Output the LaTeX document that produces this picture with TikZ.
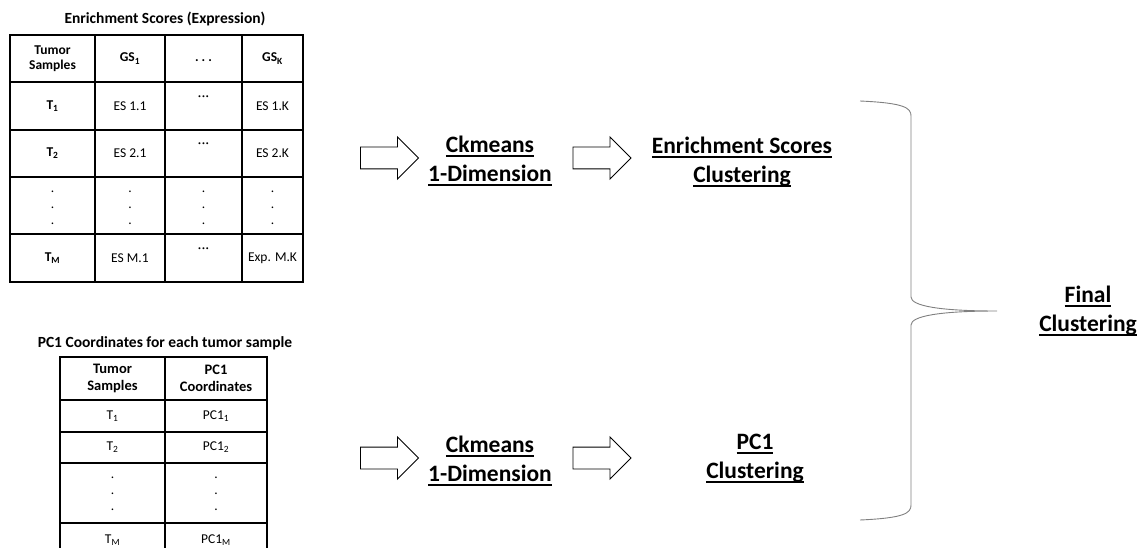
\documentclass[tikz,border=0pt]{standalone}
\usepackage{fontspec}
\setmainfont{Carlito}
\usetikzlibrary{shapes.arrows}
\newcommand\undl[1]{\setbox0\hbox{#1}\leavevmode\rlap{\rule[-3.8pt]{\wd0}{1.6pt}}\box0}
\begin{document}
\begin{tikzpicture}[x=1pt,y=-1pt,
  grid/.style={line width=1.8pt,line cap=rect},
  hdr/.style={font=\bfseries\fontsize{13.5}{15}\selectfont,align=center},
  cell/.style={font=\fontsize{13.5}{15}\selectfont},
  ttl/.style={font=\bfseries\fontsize{15.5}{18}\selectfont},
  big/.style={font=\bfseries\fontsize{23.5}{29}\selectfont,align=center},
  blockarrow/.style={single arrow,draw,line width=0.9pt,inner xsep=0pt,inner ysep=10.5pt,
    minimum width=0pt,minimum height=58pt,single arrow head extend=10pt}]
\useasboundingbox (0,0) rectangle (1142,548);
% enrichment score table
\node[ttl] (estitle) at (165,19) {Enrichment Scores (Expression)};
\foreach \x in {10,95,165,242,303} \draw[grid] (\x,35) -- (\x,282);
\foreach \y in {35,82,130,177,234,282} \draw[grid] (10,\y) -- (303,\y);
\node[hdr] (eshead) at (52.5,58.5) {Tumor\\Samples};
\node[hdr] (gs1) at (130,58.5) {GS\textsubscript{1}};
\node[hdr] (gsdots) at (203.5,61) {.\hspace{3pt}.\hspace{3pt}.};
\node[hdr] (gsk) at (272.5,58.5) {GS\textsubscript{K}};
\node[hdr] (t1) at (52.5,106) {T\textsubscript{1}};
\node[cell] (es11) at (130,106) {ES 1.1};
\node[cell] (es1d) at (203.5,98) {·\hspace{0.5pt}·\hspace{0.5pt}·};
\node[cell] (es1k) at (272.5,106) {ES 1.K};
\node[hdr] (t2) at (52.5,153.5) {T\textsubscript{2}};
\node[cell] (es21) at (130,153.5) {ES 2.1};
\node[cell] (es2d) at (203.5,145.5) {·\hspace{0.5pt}·\hspace{0.5pt}·};
\node[cell] (es2k) at (272.5,153.5) {ES 2.K};
\foreach \x [count=\i] in {52.5,130,203.5,272.5}
  \foreach \y [count=\j] in {192,208,224}
    \node[cell] (esdot-\i-\j) at (\x,\y) {.};
\node[hdr] (tm) at (52.5,258) {T\textsubscript{M}};
\node[cell] (esm1) at (130,258) {ES M.1};
\node[cell] (esmd) at (203.5,250) {·\hspace{0.5pt}·\hspace{0.5pt}·};
\node[cell] (esmk) at (272.5,258) {Exp. M.K};
% pc1 table
\node[ttl] (pctitle) at (165,343) {PC1 Coordinates for each tumor sample};
\foreach \x in {60,165,267} \draw[grid] (\x,357) -- (\x,580);
\foreach \y in {357,400,432,463,523} \draw[grid] (60,\y) -- (267,\y);
\node[hdr,font=\bfseries\fontsize{14.5}{17}\selectfont] (pchead1) at (112.5,378.5) {Tumor\\Samples};
\node[hdr,font=\bfseries\fontsize{14.5}{17}\selectfont] (pchead2) at (216,378.5) {PC1\\Coordinates};
\node[cell] (pt1) at (112.5,416) {T\textsubscript{1}};
\node[cell] (pc11) at (216,416) {PC1\textsubscript{1}};
\node[cell] (pt2) at (112.5,447.5) {T\textsubscript{2}};
\node[cell] (pc12) at (216,447.5) {PC1\textsubscript{2}};
\foreach \x [count=\i] in {112.5,216}
  \foreach \y [count=\j] in {478,494,510}
    \node[cell] (pcdot-\i-\j) at (\x,\y) {.};
\node[cell] (ptm) at (112.5,540) {T\textsubscript{M}};
\node[cell] (pc1m) at (216,540) {PC1\textsubscript{M}};
% flow
\node[blockarrow] (arr1) at (384,158) {};
\node[big] (ck1) at (490,161) {\undl{Ckmeans}\\\undl{1-Dimension}};
\node[blockarrow] (arr2) at (596.5,158) {};
\node[big] (esclus) at (742,162) {\undl{Enrichment Scores}\\\undl{Clustering}};
\node[blockarrow] (arr3) at (384,458) {};
\node[big] (ck2) at (490,461) {\undl{Ckmeans}\\\undl{1-Dimension}};
\node[blockarrow] (arr4) at (596.5,458) {};
\node[big] (pcclus) at (755,458.5) {\undl{PC1}\\\undl{Clustering}};
\node[big] (final) at (1088,311) {\undl{Final}\\\undl{Clustering}};
% brace
\draw[gray,line width=0.9pt] (860,101) .. controls (905,103) and (911,108) .. (911,116)
  -- (911,297) .. controls (911,306) and (940,311) .. (997,311)
  .. controls (940,311) and (911,316) .. (911,325) -- (911,505)
  .. controls (911,513) and (905,518) .. (860,520);
\end{tikzpicture}
\end{document}
